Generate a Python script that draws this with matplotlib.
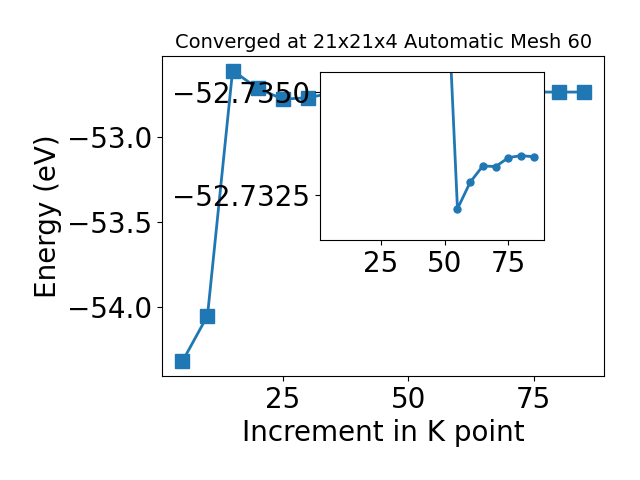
import numpy as np
import matplotlib
matplotlib.use('Agg')
import matplotlib.pyplot as plt

# k-point increment och totalenergi (eV)
kpoints = [5, 10, 15, 20, 25, 30, 35, 40, 45, 50, 55, 60, 65, 70, 75, 80, 85]
energy = [-54.318, -54.049, -52.607, -52.712, -52.775, -52.767, -52.737,
          -52.745, -52.742, -52.739, -52.73216, -52.73281, -52.73321,
          -52.73319, -52.73341, -52.73346, -52.73343]
xticks = [25, 50, 75]
inset_yticks = [-52.7350, -52.7325]
start = kpoints.index(50)  # insetet visar bara från 50 och uppåt

fig = plt.figure(figsize=(6.4, 4.8), dpi=100)
ax = fig.add_subplot(111)
fig.subplots_adjust(left=0.2536, right=0.944, bottom=0.2167, top=0.8833)

ax.plot(kpoints, energy, marker='s', markersize=10, linewidth=2)
ax.set_xlabel('Increment in K point', fontsize=20)
ax.set_ylabel('Energy (eV)', fontsize=20)
ax.set_title('Converged at 21x21x4 Automatic Mesh 60', fontsize=14)
ax.set_xticks(xticks)
ax.tick_params(labelsize=20)

# inzoomad del, y-axeln vänd
ins = fig.add_axes([0.5, 0.5, 0.35, 0.35])
ins.plot(kpoints[start:], energy[start:], marker='o', markersize=5, linewidth=2)
ins.set_xlim(ax.get_xlim())
ins.set_ylim(-52.7314, -52.7355)
ins.set_xticks(xticks)
ins.set_yticks(inset_yticks)
ins.ticklabel_format(axis='y', useOffset=False)
ins.tick_params(labelsize=20)

fig.savefig('out.png')
